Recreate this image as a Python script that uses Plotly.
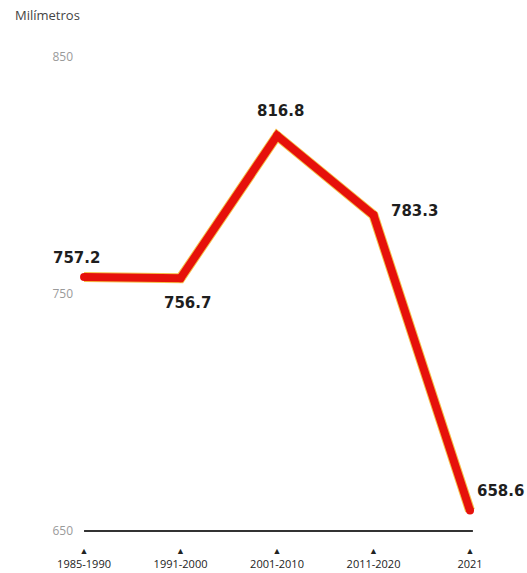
import plotly.graph_objects as go

categories = ["1985-1990", "1991-2000", "2001-2010", "2011-2020", "2021"]
values = [757.2, 756.7, 816.8, 783.3, 658.6]
y_ticks = [650, 750, 850]

x_idx = list(range(len(categories)))

fig = go.Figure()

# baseline at 650
fig.add_trace(go.Scatter(
    x=[0, 4.03], y=[650, 650], mode="lines",
    line=dict(color="#333333", width=2), hoverinfo="skip", showlegend=False))

# main line (slight warm halo then red)
fig.add_trace(go.Scatter(
    x=x_idx, y=values, mode="lines",
    line=dict(color="#f5c04a", width=10), hoverinfo="skip", showlegend=False))
fig.add_trace(go.Scatter(
    x=x_idx, y=values, mode="lines+markers",
    line=dict(color="#e6110b", width=8),
    marker=dict(color="#e6110b", size=8),
    showlegend=False))

# value labels: (xshift, yshift, xanchor)
offsets = [(-8, 19, "center"), (7, -25, "center"), (3, 25, "center"),
           (15, 4, "left"), (5, 20, "left")]
for i, (v, (dx, dy, al)) in enumerate(zip(values, offsets)):
    fig.add_annotation(x=i, y=v, text=f"<b>{v:.1f}</b>", showarrow=False,
                       xshift=dx, yshift=dy, xanchor=al,
                       font=dict(family="DejaVu Sans", size=15, color="#1e1e1e"))

fig.add_annotation(x=-0.1377, y=1.05, xref="paper", yref="paper",
                   text="Milímetros", showarrow=False, xanchor="left", yanchor="middle",
                   font=dict(family="Open Sans", size=13, color="#444444"))

fig.update_xaxes(
    range=[-0.104, 4.487], tickmode="array", tickvals=x_idx,
    ticktext=["<span style='font-size:9px'>▲</span><br>" + c for c in categories],
    automargin=False, ticklabelstandoff=2,
    tickfont=dict(family="Open Sans", size=11, color="#222222"),
    showgrid=False, zeroline=False, showline=False, ticks="")
fig.update_yaxes(
    range=[646.2, 857.2], tickmode="array", tickvals=y_ticks,
    ticktext=[str(t) for t in y_ticks], automargin=False,
    tickfont=dict(family="Open Sans", size=12, color="#9a9a9a"),
    showgrid=False, zeroline=False, showline=False, ticks="")

fig.update_layout(
    width=527, height=573,
    margin=dict(l=74, r=10, t=40, b=33),
    paper_bgcolor="white", plot_bgcolor="white",
    showlegend=False)

fig.write_html("out.html", config={"displayModeBar": False},
               post_script="document.body.style.margin='0';document.body.style.overflow='hidden';")
